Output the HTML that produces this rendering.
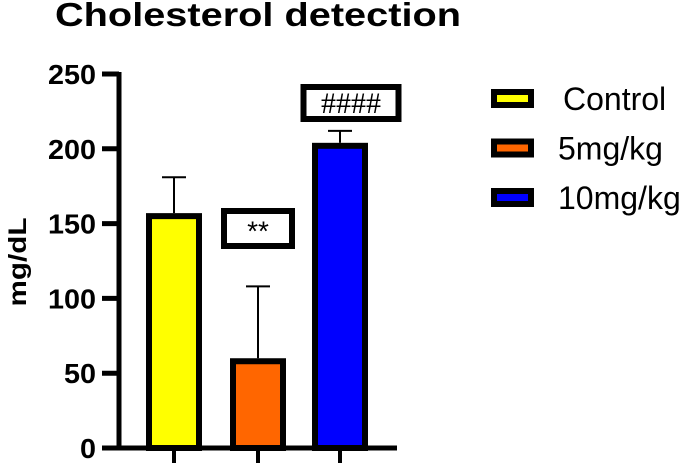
<!DOCTYPE html>
<html><head><meta charset="utf-8"><style>
html,body{margin:0;padding:0;background:#fff;}
svg{display:block;font-family:"Liberation Sans",Arial,sans-serif;}
</style></head><body>
<svg id="chart" width="685" height="465" viewBox="0 0 685 465" xmlns="http://www.w3.org/2000/svg">
<text x="55" y="26" font-size="33" font-weight="bold" textLength="406" lengthAdjust="spacingAndGlyphs">Cholesterol detection</text>
<text transform="translate(26,262) rotate(-90)" text-anchor="middle" font-size="25" font-weight="bold" textLength="89" lengthAdjust="spacingAndGlyphs">mg/dL</text>
<g id="axes"></g><g id="bars"></g><g id="legend"></g>
</svg>
<script>
const categories = ["Control","5mg/kg","10mg/kg"];
const values = [157, 60, 204];
const errors = [24, 48, 8];
const colors = ["#ffff00","#ff6600","#0000ff"];
const yTicks = [0,50,100,150,200,250];
const marks = ["**","####"];
const markIdx = [1,2];

const NS="http://www.w3.org/2000/svg";
const y0=448, yTop=74, yMax=250;
function y(v){return y0-(v/yMax)*(y0-yTop);}
const centers=[174,258,340], bw=50;
function el(tag,attrs,parent){const e=document.createElementNS(NS,tag);for(const k in attrs)e.setAttribute(k,attrs[k]);parent.appendChild(e);return e;}
const axes=document.getElementById('axes'), bars=document.getElementById('bars'), legend=document.getElementById('legend');

let a=el('line',{x1:119,y1:y0,x2:119,y2:yTop-2,stroke:'#000','stroke-width':5},axes);


a=el('line',{x1:117,y1:y0,x2:397,y2:y0,stroke:'#000','stroke-width':5},axes);


yTicks.forEach(t=>{
  const l=el('line',{x1:102,y1:y(t),x2:119,y2:y(t),stroke:'#000','stroke-width':5},axes);
  
  
  const s=String(t);
  const tx=el('text',{x:96,y:y(t)+10,'text-anchor':'end','font-size':28,'font-weight':'bold',textLength:16*s.length,lengthAdjust:'spacingAndGlyphs'},axes);
  tx.textContent=s;
  
  
});
categories.forEach((c,i)=>{
  const cx=centers[i];
  const tk=el('line',{x1:cx,y1:y0,x2:cx,y2:463,stroke:'#000','stroke-width':4},axes);
  
  
  const eb=el('line',{x1:cx,y1:y(values[i]),x2:cx,y2:y(values[i]+errors[i]),stroke:'#000','stroke-width':2},bars);
  
  
  const cap=el('line',{x1:cx-12,y1:y(values[i]+errors[i]),x2:cx+12,y2:y(values[i]+errors[i]),stroke:'#000','stroke-width':2},bars);
  
  
  const r=el('rect',{x:cx-bw/2,y:y(values[i])+3,width:bw,height:y0-y(values[i])-3,fill:colors[i],stroke:'#000','stroke-width':6},bars);
  
  
  const ly=99+i*49.5;
  const sw=el('rect',{x:494,y:ly-7,width:37,height:13,fill:colors[i],stroke:'#000','stroke-width':6},legend);
  
  
  const lt=el('text',{x:i==0?563:558,y:ly+11,'font-size':32},legend);
  lt.textContent=c;
  
  
});
marks.forEach((m,k)=>{
  const i=markIdx[k];
  const w=k==0?68:95, h=k==0?35:32;
  const top=k==0?211:87, cx=k==0?258:351;
  const b=el('rect',{x:cx-w/2,y:top,width:w,height:h,fill:'#fff',stroke:'#000','stroke-width':6},bars);
  
  
  const t=el('text',{x:cx,y:top+h/2+(k==0?12:10),'text-anchor':'middle','font-size':k==0?28:30,'font-family':k==0?'Liberation Sans':'Liberation Serif'},bars);
  t.textContent=m;
  
  
});
</script>
</body></html>
